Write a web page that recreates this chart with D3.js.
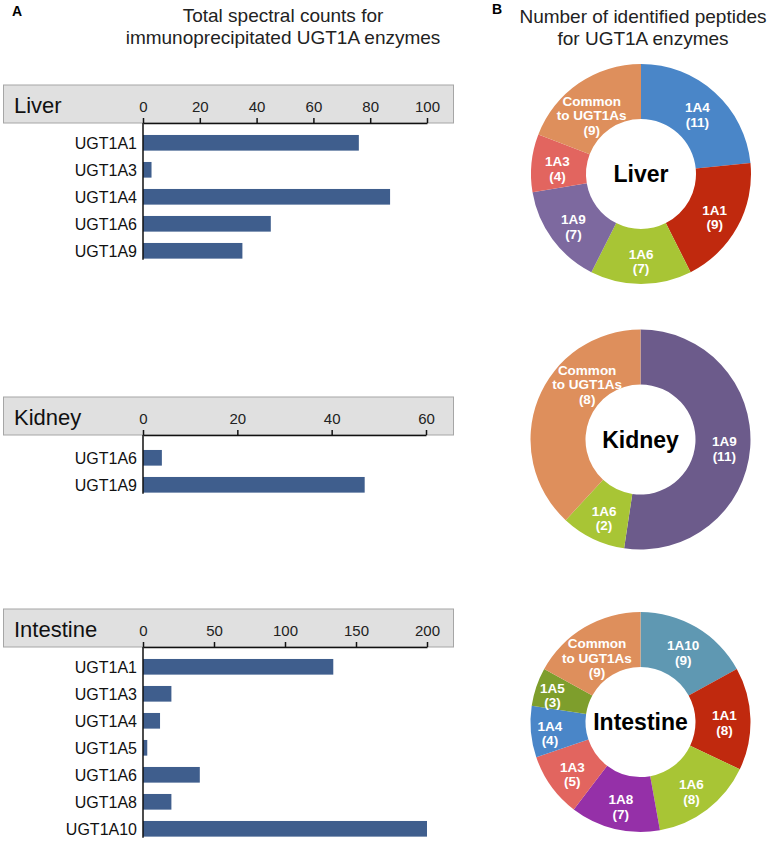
<!DOCTYPE html>
<html><head><meta charset="utf-8">
<script src="https://cdn.jsdelivr.net/npm/d3@7"></script>
<style>body{margin:0;background:#fff} text{font-family:"Liberation Sans",Arial,sans-serif}</style>
</head><body><svg id="c" width="772" height="842"></svg>
<script>
// ---- data ----
const liverGenes=["UGT1A1","UGT1A3","UGT1A4","UGT1A6","UGT1A9"];
const liverCounts=[76,3,87,45,35];
const liverTicks=[0,20,40,60,80,100];
const kidneyGenes=["UGT1A6","UGT1A9"];
const kidneyCounts=[4,47];
const kidneyTicks=[0,20,40,60];
const intestineGenes=["UGT1A1","UGT1A3","UGT1A4","UGT1A5","UGT1A6","UGT1A8","UGT1A10"];
const intestineCounts=[134,20,12,3,40,20,200];
const intestineTicks=[0,50,100,150,200];

const liverPepLabels=["1A4","1A1","1A6","1A9","1A3","Common to UGT1As"];
const liverPeptides=[11,9,7,7,4,9];
const kidneyPepLabels=["1A9","1A6","Common to UGT1As"];
const kidneyPeptides=[11,2,8];
const intestinePepLabels=["1A10","1A1","1A6","1A8","1A3","1A4","1A5","Common to UGT1As"];
const intestinePeptides=[9,8,8,7,5,4,3,9];

// ---- styles ----
const colLiver=["#4A86C8","#C0290E","#A8C535","#7D699F","#E2655F","#DE8F5C"];
const colKidney=["#6C5B8B","#A8C535","#DE8F5C"];
const colIntestine=["#5F98B2","#C0290E","#A8C535","#9530A8","#E2655F","#4A86C8","#7E9E2C","#DE8F5C"];

const svg=d3.select("#c");

// titles
svg.append("text").attr("x",12).attr("y",16).attr("font-size",14).attr("font-weight","bold").text("A");
svg.append("text").attr("x",492).attr("y",14).attr("font-size",14).attr("font-weight","bold").text("B");
const t1=svg.append("text").attr("text-anchor","middle").attr("font-size",19).attr("fill","#222");
t1.append("tspan").attr("x",283).attr("y",22).text("Total spectral counts for");
t1.append("tspan").attr("x",283).attr("y",44).text("immunoprecipitated UGT1A enzymes");
const t2=svg.append("text").attr("text-anchor","middle").attr("font-size",19).attr("fill","#222");
t2.append("tspan").attr("x",643).attr("y",23).text("Number of identified peptides");
t2.append("tspan").attr("x",643).attr("y",45).text("for UGT1A enzymes");

function barPanel(name, genes, counts, ticks, axisY, x1, offset){
  const g=svg.append("g");
  const x=d3.scaleLinear().domain([ticks[0],ticks[ticks.length-1]]).range([143,x1]);
  g.append("rect").attr("x",3.5).attr("y",axisY-38).attr("width",450).attr("height",38)
    .attr("fill","#E0E0E0").attr("stroke","#A6A6A6").attr("stroke-width",1);
  g.append("text").attr("x",14).attr("y",axisY-10).attr("font-size",22).attr("fill","#111").text(name);
  const step=27;
  const y=d3.scaleBand().domain(genes).range([axisY+offset-5.7, axisY+offset-5.7+genes.length*step])
    .paddingInner(0.42).paddingOuter(0.21);
  g.selectAll("rect.bar").data(genes).enter().append("rect").attr("class","bar")
    .attr("x",x(0)).attr("y",d=>y(d)).attr("height",y.bandwidth())
    .attr("width",(d,i)=>x(counts[i])-x(0)).attr("fill","#3F5E8D");
  g.selectAll("text.lab").data(genes).enter().append("text").attr("class","lab")
    .attr("x",137).attr("y",d=>y(d)+y.bandwidth()/2).attr("dy","0.36em")
    .attr("text-anchor","end").attr("font-size",16).attr("fill","#111").text(d=>d);
  const ax=g.append("g").attr("transform",`translate(0,${axisY})`)
    .call(d3.axisTop(x).tickValues(ticks).tickSize(5).tickSizeOuter(0).tickPadding(6));
  ax.selectAll("text").attr("font-size",15).attr("fill","#222").style("font-family",'"Liberation Sans",Arial,sans-serif');
  ax.selectAll("line").attr("stroke","#111").attr("stroke-width",1.5);
  ax.select(".domain").attr("stroke","#111").attr("stroke-width",1.5);
  const last=genes[genes.length-1];
  g.append("line").attr("x1",x(0)).attr("x2",x(0)).attr("y1",axisY).attr("y2",y(last)+y.bandwidth()+1)
    .attr("stroke","#111").attr("stroke-width",1.5);
}
barPanel("Liver",liverGenes,liverCounts,liverTicks,123,427,12);
barPanel("Kidney",kidneyGenes,kidneyCounts,kidneyTicks,435,426,15);
barPanel("Intestine",intestineGenes,intestineCounts,intestineTicks,647,427,12);

// label placement tweaks: slice index -> {f: fraction along slice, r: radius}
function donut(name, labels, values, colors, cx, cy, tweaks){
  const g=svg.append("g").attr("transform",`translate(${cx},${cy})`);
  const data=labels.map((l,i)=>({l,v:values[i],c:colors[i]}));
  const pie=d3.pie().sort(null).value(d=>d.v);
  const arc=d3.arc().innerRadius(55).outerRadius(110);
  const arcs=pie(data);
  g.selectAll("path").data(arcs).enter().append("path").attr("d",arc).attr("fill",d=>d.data.c);
  arcs.forEach((a,idx)=>{
    const tw=tweaks[idx]||{};
    const f=tw.f!==undefined?tw.f:0.5, r=tw.r||84;
    const ang=a.startAngle+(a.endAngle-a.startAngle)*f;
    const c=[Math.sin(ang)*r, -Math.cos(ang)*r+3];
    let lines=a.data.l.startsWith("Common")?["Common","to UGT1As"]:[a.data.l];
    lines=lines.concat([`(${a.data.v})`]);
    const lh=14.5;
    const t=g.append("text").attr("text-anchor","middle").attr("font-size",13.5)
      .attr("font-weight","bold").attr("fill","#fff");
    lines.forEach((s,i)=>{
      t.append("tspan").attr("x",c[0]).attr("y",c[1]+(i-(lines.length-1)/2)*lh).attr("dy","0.36em").text(s);
    });
  });
  g.append("text").attr("text-anchor","middle").attr("dy","0.36em").attr("font-size",23)
    .attr("font-weight","bold").attr("fill","#000").text(name);
}
donut("Liver",liverPepLabels,liverPeptides,colLiver,641,174,{5:{f:0.44,r:79}});
donut("Kidney",kidneyPepLabels,kidneyPeptides,colKidney,640.5,439.5,{2:{f:0.69,r:79}});
donut("Intestine",intestinePepLabels,intestinePeptides,colIntestine,640.5,722,{5:{r:91},6:{r:93},7:{f:0.46,r:80}});
</script></body></html>
